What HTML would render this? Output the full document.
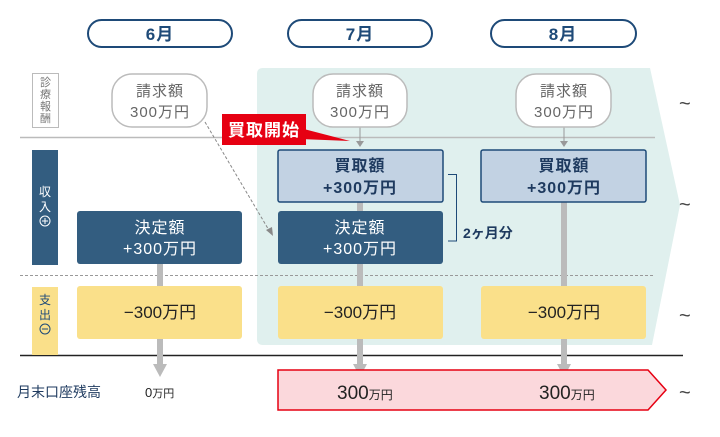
<!DOCTYPE html>
<html><head><meta charset="utf-8"><style>
body{margin:0;background:#fff;}
svg text{font-family:"Liberation Sans","Noto Sans CJK JP",sans-serif;}
</style></head><body>
<svg width="720" height="432" viewBox="0 0 720 432" xmlns="http://www.w3.org/2000/svg">
<path d="M263,68 L650,68 L680,205 L652,345 L263,345 Q257,345 257,339 L257,74 Q257,68 263,68Z" fill="#e0f0ee"/>
<g fill="#fff" stroke="#1e4a78" stroke-width="2">
<rect x="88" y="20" width="144" height="27" rx="13.5"/>
<rect x="288" y="20" width="144" height="27" rx="13.5"/>
<rect x="491" y="20" width="145" height="27" rx="13.5"/>
</g>
<g fill="#1e4a78" font-size="17" font-weight="bold" text-anchor="middle" letter-spacing="1">
<text x="160" y="40">6月</text><text x="360" y="40">7月</text><text x="563" y="40">8月</text>
</g>
<line x1="20" y1="137.5" x2="655" y2="137.5" stroke="#bbb" stroke-width="1.5"/>
<line x1="20" y1="275.5" x2="655" y2="275.5" stroke="#999" stroke-width="1" stroke-dasharray="3,2"/>
<line x1="20" y1="355.5" x2="683" y2="355.5" stroke="#222" stroke-width="1.5"/>
<rect x="32.5" y="73.5" width="26" height="54" fill="#fff" stroke="#bbb"/>
<g fill="#777" font-size="11" text-anchor="middle"><text x="45.5" y="86">診</text><text x="45.5" y="98">療</text><text x="45.5" y="110">報</text><text x="45.5" y="122">酬</text></g>
<rect x="32" y="150" width="26" height="115" fill="#335d80"/>
<g fill="#fff" font-size="12" text-anchor="middle"><text x="45" y="196">収</text><text x="45" y="211">入</text></g>
<circle cx="45" cy="221" r="5" fill="none" stroke="#fff"/><path d="M42,221h6M45,218v6" stroke="#fff"/>
<rect x="32" y="287" width="26" height="68" fill="#fae08a"/>
<g fill="#1e4a78" font-size="12" text-anchor="middle"><text x="45" y="304">支</text><text x="45" y="319">出</text></g>
<circle cx="45" cy="329" r="5" fill="none" stroke="#1e4a78"/><path d="M42,329h6" stroke="#1e4a78"/>
<g stroke="#bbb" stroke-width="6">
<line x1="160" y1="264" x2="160" y2="365"/>
<line x1="360" y1="202" x2="360" y2="365"/>
<line x1="564" y1="202" x2="564" y2="365"/>
</g>
<g fill="#bbb"><path d="M153,364h14l-7,13z"/><path d="M353,364h14l-7,13z"/><path d="M557,364h14l-7,13z"/></g>
<line x1="360" y1="127" x2="360" y2="143" stroke="#999"/><path d="M356,141h8l-4,6z" fill="#999"/>
<line x1="564" y1="127" x2="564" y2="143" stroke="#999"/><path d="M560,141h8l-4,6z" fill="#999"/>
<g fill="#fff" stroke="#bbb" stroke-width="1.5">
<rect x="112" y="74" width="95" height="53" rx="20"/>
<rect x="313" y="74" width="94" height="53" rx="20"/>
<rect x="516" y="74" width="95" height="53" rx="20"/>
</g>
<g fill="#666" font-size="15" text-anchor="middle" letter-spacing="1">
<text x="160" y="96">請求額</text><text x="160" y="117">300万円</text>
<text x="360" y="96">請求額</text><text x="360" y="117">300万円</text>
<text x="564" y="96">請求額</text><text x="564" y="117">300万円</text>
</g>
<line x1="205" y1="122" x2="270" y2="232" stroke="#888" stroke-dasharray="3,2"/>
<path d="M266,230l7,6l-1,-9z" fill="#888"/>
<path d="M300,128 L350,141 L300,139z" fill="#e60012"/>
<rect x="222" y="114" width="84" height="31" fill="#e60012"/>
<text x="264" y="136" fill="#fff" font-size="17" font-weight="bold" text-anchor="middle" letter-spacing="1">買取開始</text>
<g fill="#c2d2e3" stroke="#1e4a78" stroke-width="1.5">
<rect x="278" y="150" width="165" height="52" rx="2"/>
<rect x="481" y="150" width="165" height="52" rx="2"/>
</g>
<g fill="#1e3a5f" font-size="16" font-weight="bold" text-anchor="middle" letter-spacing="1">
<text x="360" y="171">買取額</text><text x="360" y="193">+300万円</text>
<text x="564" y="171">買取額</text><text x="564" y="193">+300万円</text>
</g>
<g fill="#335d80"><rect x="77" y="211" width="165" height="53" rx="3"/><rect x="278" y="211" width="165" height="53" rx="3"/></g>
<g fill="#fff" font-size="16" text-anchor="middle" letter-spacing="1">
<text x="160" y="233">決定額</text><text x="160" y="254">+300万円</text>
<text x="360" y="233">決定額</text><text x="360" y="254">+300万円</text>
</g>
<path d="M448,174.5h8.5v66.5h-8.5" fill="none" stroke="#1e4a78"/>
<text x="463" y="238" fill="#1e3a5f" font-size="14" font-weight="bold">2ヶ月分</text>
<g fill="#fae08a"><rect x="77" y="286" width="165" height="53" rx="3"/><rect x="278" y="286" width="165" height="53" rx="3"/><rect x="481" y="286" width="165" height="53" rx="3"/></g>
<g fill="#222" font-size="17" text-anchor="middle">
<text x="160" y="318">−300万円</text><text x="360" y="318">−300万円</text><text x="564" y="318">−300万円</text>
</g>
<path d="M278,370 L648,370 L666,390 L648,410 L278,410Z" fill="#fbd8dc" stroke="#e60012" stroke-width="1.5"/>
<text x="17" y="397" fill="#1e3a5f" font-size="14">月末口座残高</text>
<text x="145" y="397" fill="#222" font-size="13">0<tspan font-size="11">万円</tspan></text>
<text x="337" y="399" fill="#222" font-size="19">300<tspan font-size="12">万円</tspan></text>
<text x="539" y="399" fill="#222" font-size="19">300<tspan font-size="12">万円</tspan></text>
<g fill="#444" font-size="20"><text x="679" y="110">~</text><text x="679" y="211">~</text><text x="679" y="322">~</text><text x="679" y="399">~</text></g>
</svg>
</body></html>
